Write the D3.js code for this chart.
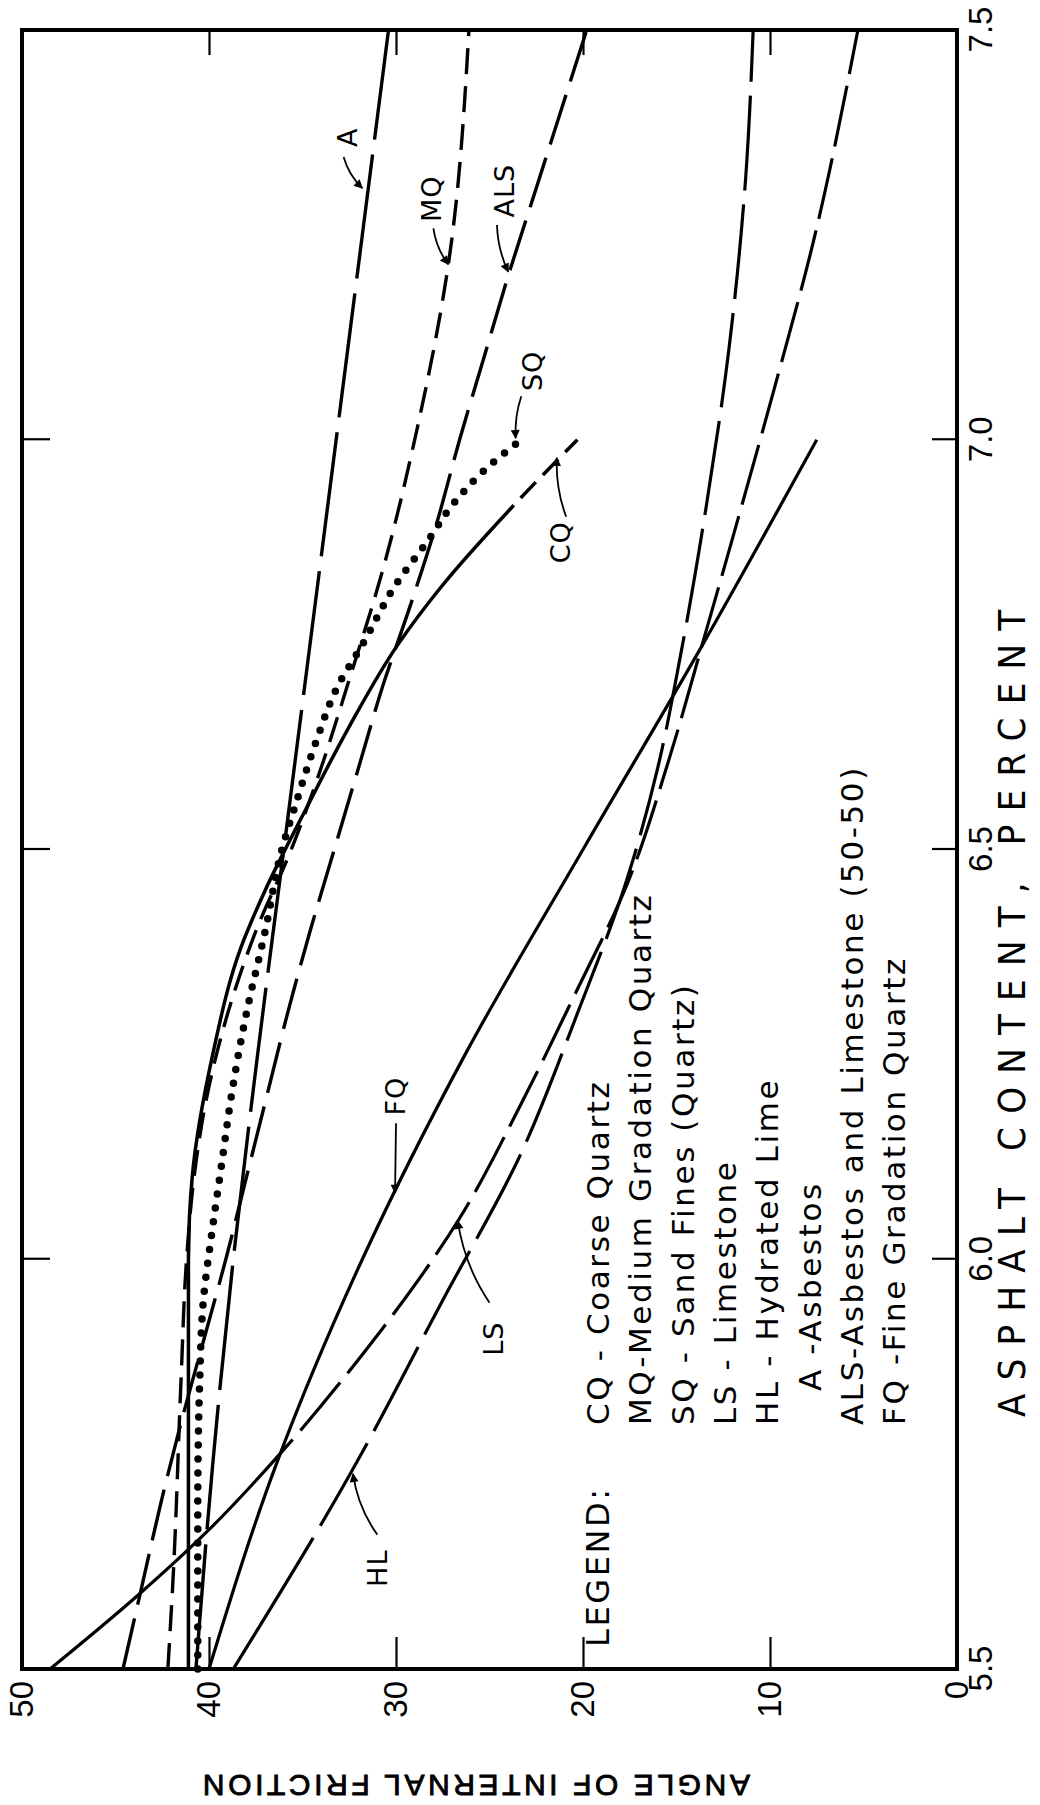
<!DOCTYPE html>
<html>
<head>
<meta charset="utf-8">
<script src="https://cdn.jsdelivr.net/npm/d3@7"></script>
<style>
  html, body { margin: 0; padding: 0; background: #fff; }
  svg { display: block; }
</style>
</head>
<body>
<div id="chart"></div>
<script>
// asphalt content (percent) -> angle of internal friction (deg)
const asphaltCQ = [5.5, 5.8, 6.0, 6.1, 6.25, 6.38, 6.45, 6.55, 6.65, 6.75, 6.82, 6.92, 7.0];
const angleCQ   = [41.1, 41.1, 41.1, 40.9, 39.8, 38.3, 37.0, 34.8, 32.5, 29.9, 27.6, 23.7, 20.3];

const asphaltMQ = [5.5, 5.62, 5.85, 6.0, 6.1, 6.2, 6.3, 6.4, 6.5, 6.6, 6.7, 6.85, 7.0, 7.214, 7.5];
const angleMQ   = [42.2, 41.9, 41.5, 41.2, 40.8, 40.1, 39.0, 37.5, 35.6, 34.0, 32.6, 30.6, 29.0, 27.2, 26.1];

const asphaltSQ = [5.5, 5.7, 5.85, 5.95, 6.04, 6.12, 6.2, 6.3, 6.4, 6.5, 6.56, 6.63, 6.7, 6.75, 6.82, 6.88, 6.92, 6.96, 7.0];
const angleSQ   = [40.6, 40.6, 40.5, 40.3, 39.8, 39.3, 38.8, 38.0, 37.0, 36.1, 35.3, 34.3, 33.1, 31.8, 30.1, 28.2, 27.0, 25.4, 23.3];

const asphaltLS = [5.5, 5.59, 5.67, 5.76, 5.875, 6.05, 6.19, 6.32, 6.46, 6.61, 6.76, 6.88, 7.06, 7.24, 7.5];
const angleLS   = [48.5, 43.8, 40.0, 36.3, 32.1, 26.6, 23.3, 20.5, 17.6, 15.4, 13.5, 12.0, 9.8, 7.7, 5.3];

const asphaltHL = [5.5, 5.74, 5.95, 6.125, 6.3, 6.46, 6.6, 6.735, 6.92, 7.11, 7.32, 7.5];
const angleHL   = [38.7, 32.4, 27.5, 23.4, 20.3, 17.7, 16.0, 14.8, 13.4, 12.2, 11.3, 10.9];

const asphaltA = [5.5, 5.75, 6.0, 6.25, 6.5, 6.75, 7.0, 7.25, 7.5];
const angleA   = [40.7, 39.8, 38.7, 37.4, 36.0, 34.6, 33.2, 31.8, 30.4];

const asphaltALS = [5.5, 5.6, 5.7, 5.8, 5.9, 6.0, 6.1, 6.2, 6.3, 6.4, 6.5, 6.6, 6.7, 6.8, 6.9, 7.0, 7.1, 7.2, 7.3, 7.4, 7.5];
const angleALS   = [44.6, 43.6, 42.6, 41.5, 40.3, 39.1, 38.0, 36.9, 35.8, 34.6, 33.3, 32.0, 30.7, 29.2, 27.8, 26.6, 25.3, 24.0, 22.6, 21.2, 19.8];

const asphaltFQ = [5.5, 5.75, 6.0, 6.25, 6.5, 6.75, 7.0];
const angleFQ   = [40.0, 36.4, 31.8, 26.3, 20.0, 13.6, 7.5];

const asphaltTicks = [5.5, 6.0, 6.5, 7.0, 7.5];
const angleTicks = [0, 10, 20, 30, 40, 50];

const legendLines = [
  "CQ - Coarse Quartz",
  "MQ-Medium Gradation Quartz",
  "SQ - Sand Fines (Quartz)",
  "LS - Limestone",
  "HL - Hydrated Lime",
  "A -Asbestos",
  "ALS-Asbestos and Limestone (50-50)",
  "FQ -Fine Gradation Quartz"
];

// curve tags: text centre, arrow start, arrow tip, all as [asphalt, angle]
const curveTags = [
  { text: "A",   at: [7.369, 32.6], from: [7.345, 32.8], to: [7.307, 31.8], bend: 5 },
  { text: "MQ",  at: [7.294, 28.1], from: [7.258, 28.0], to: [7.214, 27.2], bend: 5 },
  { text: "ALS", at: [7.304, 24.2], from: [7.262, 24.6], to: [7.205, 24.0], bend: 5 },
  { text: "SQ",  at: [7.084, 22.7], from: [7.053, 23.3], to: [7.002, 23.6], bend: 4 },
  { text: "CQ",  at: [6.875, 21.2], from: [6.906, 20.9], to: [6.978, 21.4], bend: -6 },
  { text: "FQ",  at: [6.199, 30.05], from: [6.166, 30.0], to: [6.081, 30.05], bend: 0 },
  { text: "LS",  at: [5.903, 24.8], from: [5.947, 25.0], to: [6.047, 26.7], bend: -10 },
  { text: "HL",  at: [5.623, 31.0], from: [5.664, 31.0], to: [5.738, 32.3], bend: -8 }
];

const series = [
  { xs: asphaltLS,  ys: angleLS,  width: 3.2, solidUntil: 5.78, dash: [62, 12] },
  { xs: asphaltHL,  ys: angleHL,  width: 3.2, solidUntil: 5.66, dash: [95, 14] },
  { xs: asphaltFQ,  ys: angleFQ,  width: 3.2 },
  { xs: asphaltALS, ys: angleALS, width: 3.4, dash: [52, 14] },
  { xs: asphaltA,   ys: angleA,   width: 3.4, dash: [125, 15] },
  { xs: asphaltMQ,  ys: angleMQ,  width: 3.4, dash: [26, 12] },
  { xs: asphaltCQ,  ys: angleCQ,  width: 3.5, solidUntil: 6.92, dash: [22, 10] },
  { xs: asphaltSQ,  ys: angleSQ,  width: 7.5, dots: 14 }
];

// the chart is drawn upright, then the whole thing is turned a quarter left
const W = 1639, H = 935;
const svg = d3.select("#chart").append("svg")
  .attr("width", 1040)
  .attr("height", 1805);

const defs = svg.append("defs");
defs.append("marker")
  .attr("id", "arrow")
  .attr("viewBox", "0 0 10 10")
  .attr("refX", 9).attr("refY", 5)
  .attr("markerUnits", "userSpaceOnUse")
  .attr("markerWidth", 14).attr("markerHeight", 9)
  .attr("orient", "auto")
  .append("path")
    .attr("d", "M0,0 L10,5 L0,10 z")
    .attr("fill", "#000");

const g = svg.append("g").attr("transform", "translate(22,1669) rotate(-90)");

const x = d3.scaleLinear().domain([5.5, 7.5]).range([0, W]);
const y = d3.scaleLinear().domain([0, 50]).range([H, 0]);

const tickFont = "'Liberation Sans', 'DejaVu Sans', sans-serif";
const legendFont = "'DejaVu Sans', 'Liberation Sans', sans-serif";
const titleFont = "'DejaVu Sans Condensed', 'DejaVu Sans', sans-serif";

function styleAxis(sel) {
  sel.select(".domain").remove();
  sel.selectAll(".tick line").attr("stroke", "#000").attr("stroke-width", 2.2);
  sel.selectAll(".tick text")
    .attr("fill", "#000")
    .style("font-family", tickFont)
    .style("font-size", "33px");
}

// bottom (shows on the right once turned)
g.append("g")
  .attr("transform", `translate(0,${H})`)
  .call(d3.axisBottom(x).tickValues(asphaltTicks).tickSizeInner(-25).tickSizeOuter(0)
    .tickPadding(12).tickFormat(d3.format(".1f")))
  .call(styleAxis);

// top (left side once turned)
g.append("g")
  .call(d3.axisTop(x).tickValues([6.0, 6.5, 7.0]).tickSizeInner(-28).tickSizeOuter(0).tickFormat(""))
  .call(styleAxis);

// left (bottom once turned)
g.append("g")
  .call(d3.axisLeft(y).tickValues(angleTicks).tickSizeInner(-32).tickSizeOuter(0)
    .tickPadding(12).tickFormat(d3.format("d")))
  .call(styleAxis);

// right (top once turned)
g.append("g")
  .attr("transform", `translate(${W},0)`)
  .call(d3.axisRight(y).tickValues([10, 20, 30, 40]).tickSizeInner(-25).tickSizeOuter(0).tickFormat(""))
  .call(styleAxis);

g.append("rect")
  .attr("x", 0).attr("y", 0)
  .attr("width", W).attr("height", H)
  .attr("fill", "none")
  .attr("stroke", "#000")
  .attr("stroke-width", 4);

const line = d3.line()
  .x(d => x(d[0]))
  .y(d => y(d[1]))
  .curve(d3.curveMonotoneX);

function dashFor(node, s) {
  if (s.dots) return `0,${s.dots}`;
  if (!s.dash) return null;
  if (s.solidUntil == null) return s.dash.join(",");
  const L = node.getTotalLength();
  const target = x(s.solidUntil);
  let lo = 0, hi = L;
  for (let i = 0; i < 40; i++) {
    const m = (lo + hi) / 2;
    if (node.getPointAtLength(m).x < target) lo = m; else hi = m;
  }
  const parts = [lo, s.dash[1]];
  let t = lo + s.dash[1];
  while (t < L) { parts.push(s.dash[0], s.dash[1]); t += s.dash[0] + s.dash[1]; }
  return parts.join(",");
}

series.forEach(s => {
  const pts = d3.zip(s.xs, s.ys);
  const p = g.append("path")
    .datum(pts)
    .attr("d", line)
    .attr("fill", "none")
    .attr("stroke", "#000")
    .attr("stroke-width", s.width)
    .attr("stroke-linecap", s.dots ? "round" : "butt")
    .attr("stroke-linejoin", "round");
  const da = dashFor(p.node(), s);
  if (da) p.attr("stroke-dasharray", da);
});

// curve tags with little arrows
curveTags.forEach(t => {
  g.append("text")
    .attr("x", x(t.at[0]))
    .attr("y", y(t.at[1]))
    .attr("text-anchor", "middle")
    .attr("dominant-baseline", "central")
    .style("font-family", legendFont)
    .style("font-size", "27px")
    .style("letter-spacing", "1px")
    .text(t.text);

  const x0 = x(t.from[0]), y0 = y(t.from[1]);
  const x1 = x(t.to[0]), y1 = y(t.to[1]);
  const dx = x1 - x0, dy = y1 - y0, len = Math.hypot(dx, dy) || 1;
  const cx = (x0 + x1) / 2 - dy / len * t.bend;
  const cy = (y0 + y1) / 2 + dx / len * t.bend;
  g.append("path")
    .attr("d", `M${x0},${y0} Q${cx},${cy} ${x1},${y1}`)
    .attr("fill", "none")
    .attr("stroke", "#000")
    .attr("stroke-width", 1.8)
    .attr("marker-end", "url(#arrow)");
});

// legend block
const legend = g.append("g")
  .style("font-family", legendFont)
  .style("font-size", "31px")
  .style("letter-spacing", "2.6px");

legend.append("text")
  .attr("x", 22)
  .attr("y", 587)
  .style("font-size", "32px")
  .text("LEGEND:");

legend.selectAll("text.item")
  .data(legendLines)
  .enter()
  .append("text")
    .attr("class", "item")
    .attr("x", d => d.startsWith("A -") ? 278 : 244)
    .attr("y", (d, i) => 587 + i * 42.3)
    .text(d => d);

// axis titles
g.append("text")
  .attr("x", x(6.3))
  .attr("y", H + 68)
  .attr("text-anchor", "middle")
  .attr("textLength", 807)
  .attr("lengthAdjust", "spacing")
  .style("font-family", titleFont)
  .style("font-size", "38px")
  .text("ASPHALT  CONTENT,  PERCENT");

g.append("text")
  .attr("transform", `translate(-106,${y(25.7)}) rotate(-90)`)
  .attr("text-anchor", "middle")
  .attr("textLength", 547)
  .attr("lengthAdjust", "spacing")
  .attr("stroke", "#000")
  .attr("stroke-width", 0.9)
  .style("font-family", tickFont)
  .style("font-size", "30px")
  .text("ANGLE OF INTERNAL FRICTION");
</script>
</body>
</html>
